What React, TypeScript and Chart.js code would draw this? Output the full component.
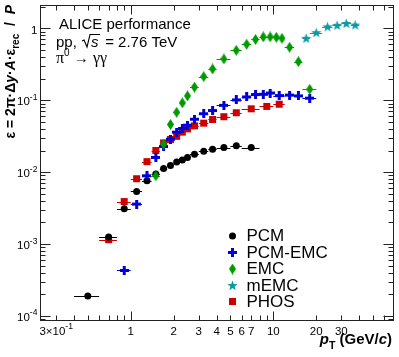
import React, { useEffect, useRef } from 'react';
import { Chart, registerables } from 'chart.js';
Chart.register(...registerables);

// ---------------- data ----------------
const pcmPt = [0.5, 0.7, 0.9, 1.1, 1.3, 1.5, 1.7, 1.9, 2.1, 2.3, 2.5, 2.8, 3.25, 3.75, 4.5, 5.5, 7];
const pcmVal = [1.9e-4, 1.25e-3, 3.1e-3, 5.4e-3, 7.6e-3, 9.4e-3, 1.12e-2, 1.24e-2, 1.38e-2, 1.48e-2, 1.6e-2, 1.78e-2, 1.96e-2, 2.09e-2, 2.2e-2, 2.32e-2, 2.2e-2];
const pcmHalfBin = [0.1, 0.1, 0.1, 0.1, 0.1, 0.1, 0.1, 0.1, 0.1, 0.1, 0.1, 0.2, 0.25, 0.25, 0.5, 0.5, 1];

const pcmEmcPt = [0.9, 1.1, 1.3, 1.5, 1.7, 1.9, 2.1, 2.3, 2.5, 2.8, 3.25, 3.75, 4.5, 5.5, 6.5, 7.5, 8.5, 9.5, 11, 13, 15, 18];
const pcmEmcVal = [4.3e-4, 3.6e-3, 8.9e-3, 1.6e-2, 2.27e-2, 2.87e-2, 3.6e-2, 4.05e-2, 4.5e-2, 5.45e-2, 6.5e-2, 7.2e-2, 8.5e-2, 0.101, 0.111, 0.12, 0.121, 0.126, 0.116, 0.118, 0.115, 0.107];
const pcmEmcHalfBin = [0.1, 0.1, 0.1, 0.1, 0.1, 0.1, 0.1, 0.1, 0.1, 0.2, 0.25, 0.25, 0.5, 0.5, 0.5, 0.5, 0.5, 0.5, 1, 1, 1, 2];

const emcPt = [1.5, 1.7, 1.9, 2.1, 2.3, 2.5, 2.8, 3.25, 3.75, 4.5, 5.5, 6.5, 7.5, 8.5, 9.5, 10.5, 11.5, 13, 15, 18];
const emcVal = [8.9e-3, 2.45e-2, 4.6e-2, 6.8e-2, 9.2e-2, 0.115, 0.152, 0.213, 0.272, 0.375, 0.494, 0.6, 0.7, 0.76, 0.76, 0.75, 0.726, 0.545, 0.344, 0.142];
const emcHalfBin = [0.1, 0.1, 0.1, 0.1, 0.1, 0.1, 0.2, 0.25, 0.25, 0.5, 0.5, 0.5, 0.5, 0.5, 0.5, 0.5, 0.5, 1, 1, 2];

const memcPt = [17, 20, 24, 28, 32.5, 37.5];
const memcVal = [0.726, 0.87, 1.05, 1.1, 1.17, 1.11];
const memcHalfBin = [1, 2, 2, 2, 2.5, 2.5];

const phosPt = [0.7, 0.9, 1.1, 1.3, 1.5, 1.7, 1.9, 2.1, 2.3, 2.5, 2.8, 3.25, 3.75, 4.5, 5.5, 7, 9, 11];
const phosVal = [1.15e-3, 3.9e-3, 8.1e-3, 1.4e-2, 2.0e-2, 2.55e-2, 2.85e-2, 3.15e-2, 3.6e-2, 4.0e-2, 4.4e-2, 4.8e-2, 5.4e-2, 5.9e-2, 6.7e-2, 7.6e-2, 8.2e-2, 8.8e-2];
const phosHalfBin = [0.1, 0.1, 0.1, 0.1, 0.1, 0.1, 0.1, 0.1, 0.1, 0.1, 0.2, 0.25, 0.25, 0.5, 0.5, 1, 1, 1];

const legendNames = ['PCM', 'PCM-EMC', 'EMC', 'mEMC', 'PHOS'];

const xLabelValues = [0.3, 1, 2, 3, 4, 5, 6, 7, 10, 20, 30];
const xLabelTexts = ['3×10^-1', '1', '2', '3', '4', '5', '6', '7', '10', '20', '30'];
const xMajorTicks = [1, 10];
const xMinorTicks = [0.3, 0.4, 0.5, 0.6, 0.7, 0.8, 0.9, 2, 3, 4, 5, 6, 7, 8, 9, 20, 30, 40, 50, 60, 70];

const yLabelValues = [1e-4, 1e-3, 1e-2, 1e-1, 1];
const yLabelTexts = ['10^-4', '10^-3', '10^-2', '10^-1', '1'];
const yDecades = [1e-5, 1e-4, 1e-3, 1e-2, 1e-1, 1];
const yMinorMultipliers = [2, 3, 4, 5, 6, 7, 8, 9];

const X_MIN = 0.231;
const X_MAX = 70.2;
const Y_MIN = 8.52e-5;
const Y_MAX = 2.11;

// ---------------- styles ----------------
const C_PCM = '#000000';
const C_PCMEMC = '#0000d8';
const C_EMC = '#009a00';
const C_MEMC = '#0a9aa2';
const C_PHOS = '#cc0000';
const SANS = '"Liberation Sans", Arial, Helvetica, sans-serif';
const SERIF = '"Liberation Serif", "Times New Roman", serif';

function makeCanvas(w: number, h: number, draw: (g: CanvasRenderingContext2D) => void) {
  const c = document.createElement('canvas');
  c.width = w;
  c.height = h;
  const g = c.getContext('2d') as CanvasRenderingContext2D;
  draw(g);
  return c;
}

function makeCross(color: string) {
  return makeCanvas(9, 9, (g) => {
    g.fillStyle = color;
    g.fillRect(0, 3, 9, 3);
    g.fillRect(3, 0, 3, 9);
  });
}
function makeDiamond(color: string) {
  return makeCanvas(7, 11, (g) => {
    g.fillStyle = color;
    g.beginPath();
    g.moveTo(3.5, 0);
    g.lineTo(7, 5.5);
    g.lineTo(3.5, 11);
    g.lineTo(0, 5.5);
    g.closePath();
    g.fill();
  });
}
function makeStar(color: string) {
  return makeCanvas(11, 11, (g) => {
    g.fillStyle = color;
    g.beginPath();
    for (let i = 0; i < 10; i++) {
      const a = -Math.PI / 2 + (i * Math.PI) / 5;
      const r = i % 2 ? 2.2 : 5.4;
      const px = 5.5 + r * Math.cos(a);
      const py = 5.9 + r * Math.sin(a);
      if (i === 0) g.moveTo(px, py);
      else g.lineTo(px, py);
    }
    g.closePath();
    g.fill();
  });
}

function drawSup(ctx: CanvasRenderingContext2D, text: string, x: number, y: number, align: string, size: number) {
  const parts = text.split('^');
  const base = parts[0];
  const exp = parts[1];
  const es = size * 0.75;
  ctx.font = `${size}px ${SANS}`;
  const wb = ctx.measureText(base).width;
  let we = 0;
  if (exp) {
    ctx.font = `${es}px ${SANS}`;
    we = ctx.measureText(exp).width;
  }
  const tot = wb + we;
  const x0 = align === 'right' ? x - tot : align === 'center' ? x - tot / 2 : x;
  ctx.textAlign = 'left';
  ctx.textBaseline = 'alphabetic';
  ctx.font = `${size}px ${SANS}`;
  ctx.fillText(base, x0, y);
  if (exp) {
    ctx.font = `${es}px ${SANS}`;
    ctx.fillText(exp, x0 + wb, y - size * 0.5);
  }
}

type Seg = { t: string; font: string; dy?: number };
function segWidth(ctx: CanvasRenderingContext2D, segs: Seg[]) {
  let w = 0;
  for (const s of segs) {
    ctx.font = s.font;
    w += ctx.measureText(s.t).width;
  }
  return w;
}
function drawSegs(ctx: CanvasRenderingContext2D, segs: Seg[], x: number, y: number) {
  let cx = x;
  ctx.textAlign = 'left';
  ctx.textBaseline = 'alphabetic';
  for (const s of segs) {
    ctx.font = s.font;
    ctx.fillText(s.t, cx, y + (s.dy || 0));
    cx += ctx.measureText(s.t).width;
  }
  return cx;
}

export default function App() {
  const ref = useRef<HTMLCanvasElement>(null);

  useEffect(() => {
    const canvas = ref.current;
    if (!canvas) return;

    const crossImg = makeCross(C_PCMEMC);
    const diamondImg = makeDiamond(C_EMC);
    const starImg = makeStar(C_MEMC);

    const toPts = (xs: number[], ys: number[]) => xs.map((x, i) => ({ x, y: ys[i] }));

    const datasets: any[] = [
      { label: 'EMC', data: toPts(emcPt, emcVal), halfBin: emcHalfBin, color: C_EMC, pointStyle: diamondImg, pointRadius: 5 },
      { label: 'PCM-EMC', data: toPts(pcmEmcPt, pcmEmcVal), halfBin: pcmEmcHalfBin, color: C_PCMEMC, pointStyle: crossImg, pointRadius: 5 },
      { label: 'PCM', data: toPts(pcmPt, pcmVal), halfBin: pcmHalfBin, color: C_PCM, pointStyle: 'circle', pointRadius: 3.5 },
      { label: 'mEMC', data: toPts(memcPt, memcVal), halfBin: memcHalfBin, color: C_MEMC, pointStyle: starImg, pointRadius: 5 },
      { label: 'PHOS', data: toPts(phosPt, phosVal), halfBin: phosHalfBin, color: C_PHOS, pointStyle: 'rect', pointRadius: 4.95 },
    ].map((d) => ({
      ...d,
      showLine: false,
      backgroundColor: d.color,
      borderColor: d.color,
      borderWidth: 0,
      pointBackgroundColor: d.color,
      pointBorderColor: d.color,
      pointBorderWidth: 0,
      pointHoverRadius: d.pointRadius,
    }));

    const errorBars = {
      id: 'errorBars',
      beforeDatasetsDraw(chart: any) {
        const ctx = chart.ctx as CanvasRenderingContext2D;
        const xs = chart.scales.x;
        const ys = chart.scales.y;
        ctx.save();
        chart.data.datasets.forEach((ds: any) => {
          ctx.strokeStyle = ds.color;
          ctx.lineWidth = 1;
          ds.data.forEach((p: any, i: number) => {
            const hb = ds.halfBin[i];
            const x1 = xs.getPixelForValue(p.x - hb);
            const x2 = xs.getPixelForValue(p.x + hb);
            const py = Math.round(ys.getPixelForValue(p.y)) + 0.5;
            ctx.beginPath();
            ctx.moveTo(x1, py);
            ctx.lineTo(x2, py);
            ctx.stroke();
          });
        });
        ctx.restore();
      },
    };

    const deco = {
      id: 'deco',
      afterDraw(chart: any) {
        const ctx = chart.ctx as CanvasRenderingContext2D;
        const xs = chart.scales.x;
        const ys = chart.scales.y;
        const a = chart.chartArea;
        const L = Math.round(a.left) + 0.5;
        const R = Math.round(a.right) - 0.5;
        const T = Math.round(a.top) + 0.5;
        const B = Math.round(a.bottom) - 0.5;
        ctx.save();
        ctx.strokeStyle = '#222';
        ctx.lineWidth = 1;
        ctx.strokeRect(L, T, R - L, B - T);

        const line = (x1: number, y1: number, x2: number, y2: number) => {
          ctx.beginPath();
          ctx.moveTo(x1, y1);
          ctx.lineTo(x2, y2);
          ctx.stroke();
        };
        // x ticks
        const xt = (v: number, len: number) => {
          const px = Math.round(xs.getPixelForValue(v)) + 0.5;
          if (px < L || px > R) return;
          line(px, B, px, B - len);
          line(px, T, px, T + len);
        };
        xMinorTicks.forEach((v) => xt(v, 5));
        xMajorTicks.forEach((v) => xt(v, 9));
        // y ticks
        const yt = (v: number, len: number) => {
          const py = Math.round(ys.getPixelForValue(v)) + 0.5;
          if (py < T || py > B) return;
          line(L, py, L + len, py);
          line(R, py, R - len, py);
        };
        yDecades.forEach((d) => {
          yMinorMultipliers.forEach((m) => yt(d * m, 5));
          yt(d, 10);
        });

        ctx.fillStyle = '#000';
        // x labels
        xLabelValues.forEach((v, i) => {
          drawSup(ctx, xLabelTexts[i], xs.getPixelForValue(v), 335, 'center', 11.5);
        });
        // y labels
        yLabelValues.forEach((v, i) => {
          drawSup(ctx, yLabelTexts[i], 37.5, ys.getPixelForValue(v) + 5.2, 'right', 11.5);
        });

        // x title
        const bold = `bold 15px ${SANS}`;
        const boldIt = `italic bold 15px ${SANS}`;
        const xSegs: Seg[] = [
          { t: 'p', font: boldIt },
          { t: 'T', font: `bold 10.5px ${SANS}`, dy: 5 },
          { t: ' (GeV/', font: bold },
          { t: 'c', font: boldIt },
          { t: ')', font: bold },
        ];
        const xw = segWidth(ctx, xSegs);
        drawSegs(ctx, xSegs, 392 - xw, 344);

        // y title (rotated)
        const yb = `bold 14px ${SANS}`;
        const ybi = `italic bold 14px ${SANS}`;
        const ySegs: Seg[] = [
          { t: 'ε = 2π·Δ', font: yb },
          { t: 'y', font: ybi },
          { t: '·', font: yb },
          { t: 'A', font: ybi },
          { t: '·ε', font: yb },
          { t: 'rec', font: `bold 10px ${SANS}`, dy: 4 },
          { t: '  /  ', font: yb },
          { t: 'P', font: ybi },
        ];
        const yw = segWidth(ctx, ySegs);
        ctx.save();
        ctx.translate(15, 5);
        ctx.rotate(-Math.PI / 2);
        drawSegs(ctx, ySegs, -yw, 0);
        ctx.restore();

        // annotations
        ctx.font = `15px ${SANS}`;
        ctx.textAlign = 'left';
        ctx.fillText('ALICE performance', 59, 29);
        let cx = drawSegs(ctx, [{ t: 'pp, ', font: `15px ${SANS}` }], 56, 47);
        // sqrt sign
        ctx.strokeStyle = '#000';
        ctx.lineWidth = 1.1;
        ctx.beginPath();
        ctx.moveTo(cx + 1, 41);
        ctx.lineTo(cx + 3, 40);
        ctx.lineTo(cx + 6, 47);
        ctx.lineTo(cx + 9, 34.5);
        ctx.lineTo(cx + 19, 34.5);
        ctx.stroke();
        ctx.font = `italic 15px ${SANS}`;
        ctx.fillText('s', cx + 10, 47);
        cx += 20;
        drawSegs(ctx, [{ t: ' = 2.76 TeV', font: `15px ${SANS}` }], cx, 47);
        drawSegs(
          ctx,
          [
            { t: 'π', font: `16px ${SERIF}` },
            { t: '0', font: `10px ${SANS}`, dy: -7 },
            { t: ' → ', font: `15px ${SANS}` },
            { t: 'γγ', font: `16px ${SERIF}` },
          ],
          56,
          63
        );

        // legend
        const rows = [236, 252.5, 269, 285.5, 301.5];
        const lx = 232.5;
        legendNames.forEach((name, i) => {
          const ry = rows[i];
          if (name === 'PCM') {
            ctx.fillStyle = C_PCM;
            ctx.beginPath();
            ctx.arc(lx, ry, 3.5, 0, Math.PI * 2);
            ctx.fill();
          } else if (name === 'PCM-EMC') {
            ctx.drawImage(crossImg, lx - 4.5, ry - 4.5);
          } else if (name === 'EMC') {
            ctx.drawImage(diamondImg, lx - 3.5, ry - 5.5);
          } else if (name === 'mEMC') {
            ctx.drawImage(starImg, lx - 5.5, ry - 5.5);
          } else {
            ctx.fillStyle = C_PHOS;
            ctx.fillRect(lx - 3.5, ry - 3.5, 7, 7);
          }
          ctx.fillStyle = '#000';
          ctx.font = `17px ${SANS}`;
          ctx.textAlign = 'left';
          ctx.fillText(name, 246.5, ry + 5);
        });
        ctx.restore();
      },
    };

    const chart = new Chart(canvas, {
      type: 'scatter',
      data: { datasets },
      options: {
        responsive: false,
        animation: false,
        devicePixelRatio: 1,
        layout: { padding: { left: 40, right: 5, top: 5, bottom: 36 } },
        plugins: { legend: { display: false }, tooltip: { enabled: false } },
        events: [],
        scales: {
          x: { type: 'logarithmic', min: X_MIN, max: X_MAX, display: false },
          y: { type: 'logarithmic', min: Y_MIN, max: Y_MAX, display: false },
        },
      },
      plugins: [errorBars, deco],
    } as any);

    return () => chart.destroy();
  }, []);

  return (
    <div style={{ position: 'absolute', left: 0, top: 0, width: 399, height: 357, background: '#fff' }}>
      <canvas ref={ref} width={399} height={357} style={{ display: 'block' }} />
    </div>
  );
}
